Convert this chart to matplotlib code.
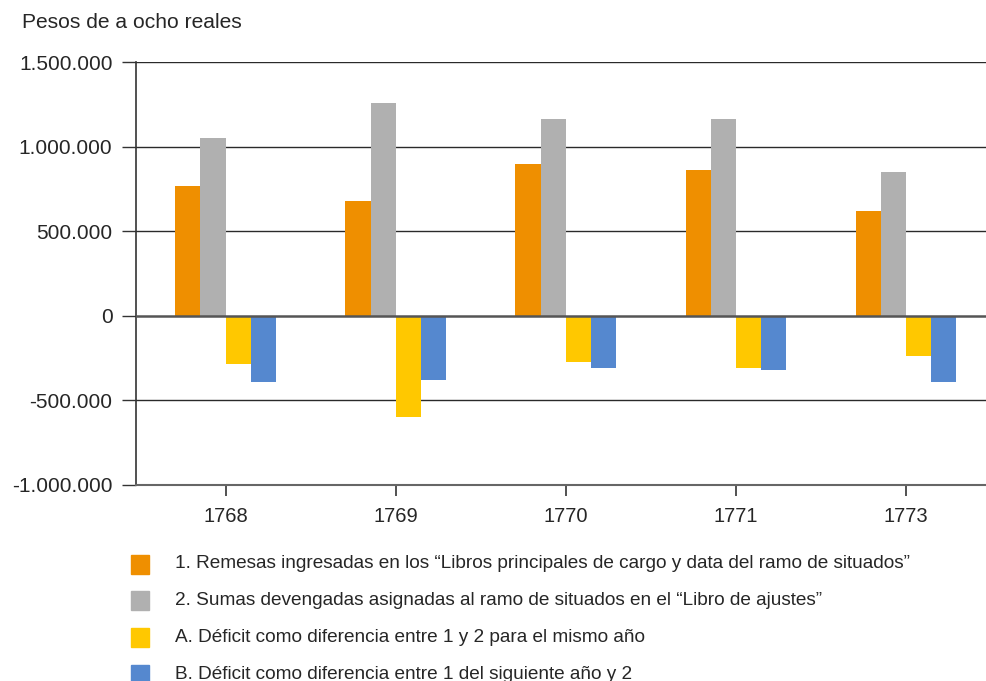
import matplotlib
matplotlib.use("Agg")
import matplotlib.pyplot as plt
from matplotlib.patches import Rectangle
from matplotlib.ticker import FuncFormatter, FixedLocator
import numpy as np

plt.rcParams["font.family"] = ["Liberation Sans", "DejaVu Sans"]

# --- datos ---
years = ["1768", "1769", "1770", "1771", "1773"]
remesas = [765000, 677000, 895000, 860000, 618000]        # 1.
sumas = [1049000, 1255000, 1161000, 1161000, 848000]      # 2.
deficit_a = [-283000, -596000, -271000, -307000, -236000]  # A.
deficit_b = [-390000, -378000, -307000, -319000, -390000]  # B.

series = [remesas, sumas, deficit_a, deficit_b]
colors = ["#EF8F00", "#B0B0B0", "#FFC800", "#5588CF"]
labels = [
    "1. Remesas ingresadas en los \u201cLibros principales de cargo y data del ramo de situados\u201d",
    "2. Sumas devengadas asignadas al ramo de situados en el \u201cLibro de ajustes\u201d",
    "A. D\u00e9ficit como diferencia entre 1 y 2 para el mismo a\u00f1o",
    "B. D\u00e9ficit como diferencia entre 1 del siguiente a\u00f1o y 2",
]

W, H = 986, 681
fig = plt.figure(figsize=(W / 100, H / 100), dpi=100)
ax = fig.add_axes([136 / W, 1 - 485 / H, 1 - 136 / W, (485 - 62) / H])

x = np.arange(len(years))
width = 0.148
for i, (vals, c) in enumerate(zip(series, colors)):
    ax.bar(x + (i - 1.5) * width, vals, width, color=c, zorder=3)

ax.set_ylim(-1000000, 1500000)
ax.set_xlim(-0.527, 4.47)
ax.yaxis.set_major_locator(FixedLocator(np.arange(-1000000, 1500001, 500000)))
ax.yaxis.set_major_formatter(FuncFormatter(lambda v, p: f"{int(v):,}".replace(",", ".")))
ax.set_xticks(x)
ax.set_xticklabels(years)

txt = "#262626"
ax.tick_params(axis="y", length=10, width=1, color="#333333", pad=7,
               labelsize=15, labelcolor=txt)
ax.tick_params(axis="x", length=8, width=1.2, color="#333333", pad=8,
               labelsize=14.5, labelcolor=txt)

for v in np.arange(-500000, 1500001, 500000):
    ax.axhline(v, color="#2a2a2a" if v != 0 else "#555555",
               lw=1.0 if v != 0 else 1.8, zorder=4 if v == 0 else 1)
for s in ["top", "right"]:
    ax.spines[s].set_visible(False)
ax.spines["left"].set_color("#333333")
ax.spines["left"].set_linewidth(1.2)
ax.spines["bottom"].set_color("#666666")
ax.spines["bottom"].set_linewidth(1.5)

fig.text(22 / W, 1 - 22 / H, "Pesos de a ocho reales", fontsize=15.1, color=txt,
         va="center", ha="left")

# leyenda
for i, (lab, c) in enumerate(zip(labels, colors)):
    yc = 564 + i * 36.7
    fig.patches.append(Rectangle((131 / W, 1 - (yc + 9.5) / H), 18 / W, 19 / H,
                                 transform=fig.transFigure, color=c, figure=fig))
    fig.text(175 / W, 1 - yc / H, lab, fontsize=13.7, color=txt, va="center", ha="left")

fig.savefig("out.png", dpi=100)
